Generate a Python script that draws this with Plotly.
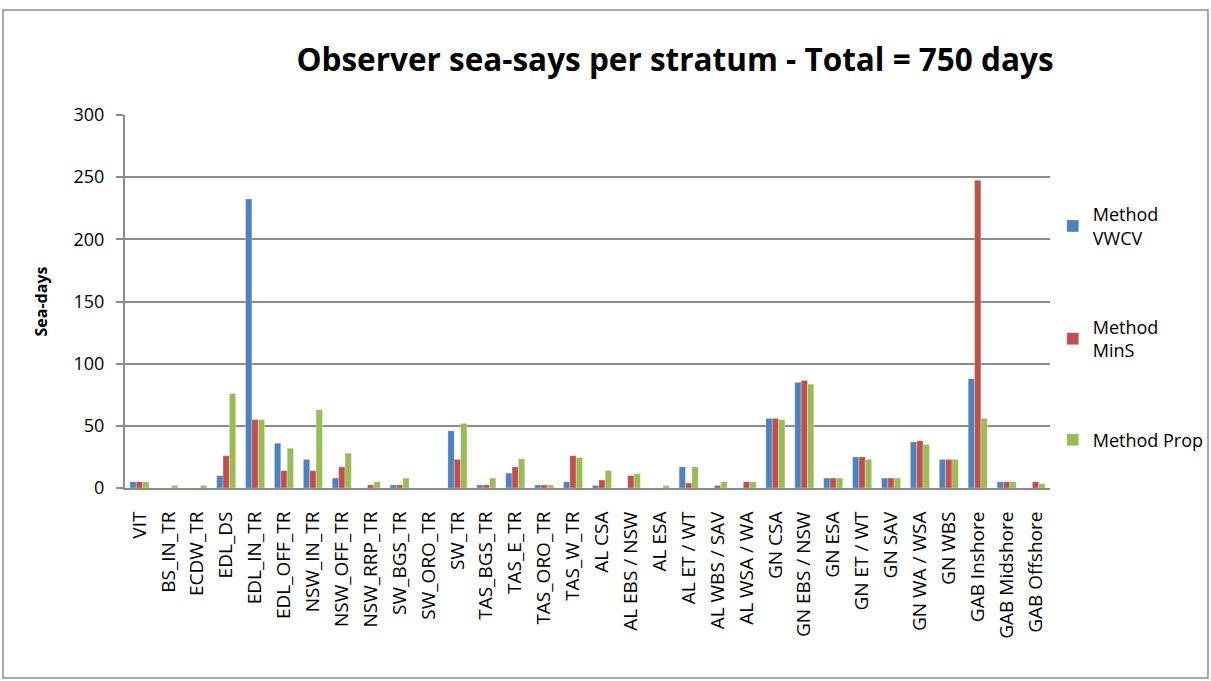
import plotly.graph_objects as go

# Strata and observer sea-days per allocation method
strata = [
    "VIT", "BS_IN_TR", "ECDW_TR", "EDL_DS", "EDL_IN_TR", "EDL_OFF_TR",
    "NSW_IN_TR", "NSW_OFF_TR", "NSW_RRP_TR", "SW_BGS_TR", "SW_ORO_TR",
    "SW_TR", "TAS_BGS_TR", "TAS_E_TR", "TAS_ORO_TR", "TAS_W_TR",
    "AL CSA", "AL EBS / NSW", "AL ESA", "AL ET / WT", "AL WBS / SAV",
    "AL WSA / WA", "GN CSA", "GN EBS / NSW", "GN ESA", "GN ET / WT",
    "GN SAV", "GN WA / WSA", "GN WBS", "GAB Inshore", "GAB Midshore",
    "GAB Offshore",
]

vwcv = [5, 0, 0, 10, 232.5, 36, 23, 8, 0, 2.5, 0,
        46, 2.5, 12, 2.5, 5,
        2, 0, 0, 17, 0, 0,
        56, 85, 8, 25, 8, 37, 23,
        88, 5, 0]

mins = [5, 0, 0, 26, 55, 14, 14, 17, 2.5, 2.5, 0,
        23, 2.5, 17, 2.5, 26,
        6.5, 10, 0, 4, 2, 5,
        56, 86.5, 8, 25, 8, 38, 23,
        247.5, 5, 5]

prop = [5, 2, 2, 76, 55, 32, 63, 28, 5, 8, 0,
        52, 8, 23.5, 2.5, 24.5,
        14, 11.5, 2, 17, 5, 5,
        55, 83.5, 8, 23, 8, 35, 23,
        56, 5, 3.5]

series_names = ["Method<br>VWCV", "Method<br>MinS", "Method Prop"]
series_values = [vwcv, mins, prop]
series_colors = ["#4F81BD", "#C0504D", "#9BBB59"]

FONT = "Open Sans"
GRID = "#8C8C8C"

fig = go.Figure()
for i, (name, vals, col) in enumerate(zip(series_names, series_values, series_colors)):
    fig.add_trace(go.Bar(
        x=strata, y=vals, name=name, legendgroup=f"g{i}",
        marker=dict(color=col, line=dict(color="rgba(255,255,255,0.5)", width=0.6)),
    ))

fig.update_layout(
    width=1211, height=681,
    margin=dict(l=125, r=161, t=115, b=193, autoexpand=False),
    paper_bgcolor="white", plot_bgcolor="white",
    barmode="group", bargap=0.34, bargroupgap=0,
    font=dict(family=FONT, color="#000000", size=18),
    title=dict(
        text="<b>Observer sea-says per stratum - Total = 750 days</b>",
        x=675 / 1211, xanchor="center", y=1 - 60 / 681, yanchor="middle",
        font=dict(family=FONT, size=31.5, color="#000000"),
    ),
    legend=dict(
        x=1.003, xanchor="left", y=(488 - 327) / 373, yanchor="middle",
        font=dict(family=FONT, size=18, color="#000000"),
        tracegroupgap=63, itemwidth=30,
        bgcolor="rgba(0,0,0,0)",
    ),
    showlegend=True,
)

fig.update_xaxes(
    type="category", tickangle=-90, showgrid=False,
    showline=True, linecolor=GRID, linewidth=2,
    ticks="", tickfont=dict(family=FONT, size=19),
    ticklabelstandoff=14,
)
fig.update_yaxes(
    range=[0, 300], dtick=50, tick0=0,
    showgrid=True, gridcolor=GRID, gridwidth=1.5,
    showline=True, linecolor=GRID, linewidth=2,
    ticks="outside", ticklen=7, tickcolor=GRID, tickwidth=1.5,
    tickfont=dict(family=FONT, size=18),
    ticklabelstandoff=8,
    zeroline=False,
    title=dict(text="<b>Sea-days</b>", font=dict(family=FONT, size=16), standoff=22),
)

# Chart frame
fig.add_shape(
    type="rect", xref="paper", yref="paper",
    x0=(3 - 125) / 925, x1=(1208 - 125) / 925,
    y0=(488 - 678) / 373, y1=(488 - 10) / 373,
    line=dict(color="#8C8C8C", width=1.5), fillcolor="rgba(0,0,0,0)",
    layer="below",
)

fig.write_html("out.html")
